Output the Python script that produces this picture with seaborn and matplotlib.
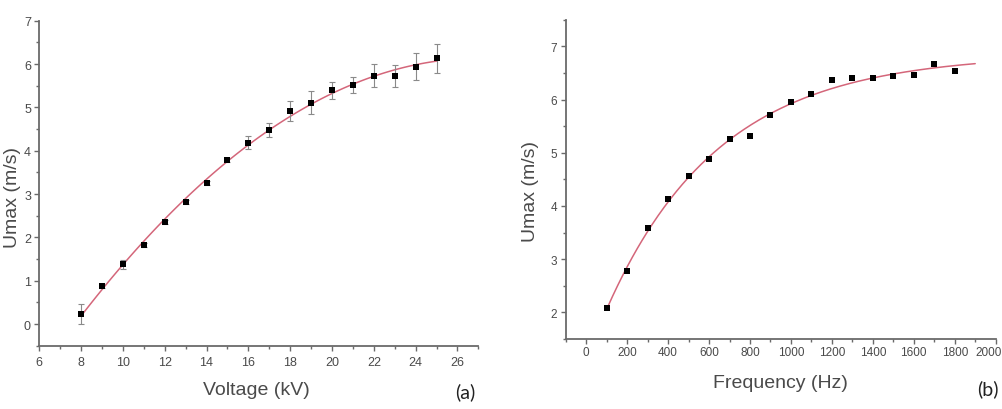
import numpy as np
import pandas as pd
import matplotlib
matplotlib.use("Agg")
import matplotlib.pyplot as plt
import matplotlib.transforms as mtrans
from matplotlib.ticker import MultipleLocator
import seaborn as sns

# ---- data ----
voltage_kv = [8, 9, 10, 11, 12, 13, 14, 15, 16, 17, 18, 19, 20, 21, 22, 23, 24, 25]
umax_volt = [0.23, 0.87, 1.38, 1.83, 2.35, 2.82, 3.25, 3.79, 4.18, 4.48, 4.92,
             5.11, 5.39, 5.52, 5.73, 5.72, 5.94, 6.13]
err_volt = [0.23, 0.05, 0.10, 0.05, 0.05, 0.05, 0.05, 0.05, 0.15, 0.17, 0.23,
            0.27, 0.19, 0.18, 0.26, 0.25, 0.31, 0.33]

freq_hz = [100, 200, 300, 400, 500, 600, 700, 800, 900, 1000, 1100, 1200,
           1300, 1400, 1500, 1600, 1700, 1800]
umax_freq = [2.08, 2.78, 3.58, 4.13, 4.56, 4.88, 5.26, 5.32, 5.70, 5.96, 6.10,
             6.37, 6.40, 6.41, 6.45, 6.47, 6.67, 6.53]

volt_xticks = [6, 8, 10, 12, 14, 16, 18, 20, 22, 24, 26]
volt_yticks = [0, 1, 2, 3, 4, 5, 6, 7]
freq_xticks = [0, 200, 400, 600, 800, 1000, 1200, 1400, 1600, 1800, 2000]
freq_yticks = [2, 3, 4, 5, 6, 7]

df_v = pd.DataFrame({"Voltage": voltage_kv, "Umax": umax_volt, "err": err_volt})
df_f = pd.DataFrame({"Frequency": freq_hz, "Umax": umax_freq})

# ---- style ----
sns.set_theme(style="ticks")
plt.rcParams["font.family"] = ["Liberation Sans", "DejaVu Sans"]

TXT = "#4a4a4a"
AX = "#6a6a6a"
FIT = "#d4667a"

fig = plt.figure(figsize=(10.02, 4.10), dpi=100)
ax1 = fig.add_axes([0.0392, 0.1544, 0.4382, 0.7927])
ax2 = fig.add_axes([0.5646, 0.1707, 0.4291, 0.7788])


def style_axes(ax, fs):
    for s in ["top", "right"]:
        ax.spines[s].set_visible(False)
    for s in ["left", "bottom"]:
        ax.spines[s].set_color(AX)
        ax.spines[s].set_linewidth(1.3)
    ax.tick_params(which="major", direction="out", length=3.5, width=1.0,
                   color=AX, labelcolor=TXT, labelsize=fs, pad=2.5)
    ax.tick_params(which="minor", direction="out", length=2.0, width=1.0,
                   color=AX)


# ---- panel (a) ----
sns.regplot(data=df_v, x="Voltage", y="Umax", order=2, ci=None, scatter=False,
            truncate=True, ax=ax1, line_kws=dict(color=FIT, lw=1.1))
ax1.errorbar(df_v["Voltage"], df_v["Umax"], yerr=df_v["err"], fmt="none",
             ecolor="#8a8a8a", elinewidth=0.8, capsize=2.5, capthick=0.8, zorder=3)
sns.scatterplot(data=df_v, x="Voltage", y="Umax", marker="s", s=24,
                color="black", edgecolor="black", linewidth=0, ax=ax1, zorder=4)
ax1.set_xlim(6, 27)
ax1.set_ylim(-0.5, 7)
ax1.set_xticks(volt_xticks)
ax1.set_yticks(volt_yticks)
ax1.xaxis.set_minor_locator(MultipleLocator(1))
ax1.yaxis.set_minor_locator(MultipleLocator(0.5))
style_axes(ax1, 9)
ax1.tick_params(axis="x", which="major", pad=4)
ax1.set_xlabel("Voltage (kV)", fontsize=14, color=TXT)
ax1.set_ylabel("Umax (m/s)", fontsize=14, color=TXT)
ax1.yaxis.set_label_coords(-0.041, 0.46)
ax1.xaxis.set_label_coords(0.495, -0.108)

# ---- panel (b): exponential saturation fit ----
xf = np.asarray(freq_hz, float)
yf = np.asarray(umax_freq, float)
best = None
for tau in np.linspace(100, 2000, 1901):
    M = np.column_stack([np.ones_like(xf), np.exp(-xf / tau)])
    coef, *_ = np.linalg.lstsq(M, yf, rcond=None)
    r = np.sum((M @ coef - yf) ** 2)
    if best is None or r < best[0]:
        best = (r, tau, coef)
_, tau, coef = best
xs = np.linspace(105, 1900, 300)
df_fit = pd.DataFrame({"Frequency": xs,
                       "Umax": coef[0] + coef[1] * np.exp(-xs / tau)})

sns.lineplot(data=df_fit, x="Frequency", y="Umax", color=FIT, lw=1.1, ax=ax2)
sns.scatterplot(data=df_f, x="Frequency", y="Umax", marker="s", s=24,
                color="black", edgecolor="black", linewidth=0, ax=ax2, zorder=4)
ax2.set_xlim(-100, 2000)
ax2.set_ylim(1.5, 7.5)
ax2.set_xticks(freq_xticks)
ax2.set_yticks(freq_yticks)
ax2.xaxis.set_minor_locator(MultipleLocator(100))
ax2.yaxis.set_minor_locator(MultipleLocator(0.5))
style_axes(ax2, 8.5)
ax2.tick_params(axis="x", which="major", pad=1.5)
# nudge the last tick label a little left so it stays inside the picture
last = ax2.get_xticklabels()[-1]
last.set_transform(last.get_transform() +
                   mtrans.ScaledTranslation(-7 / 100, 0, fig.dpi_scale_trans))
ax2.set_xlabel("Frequency (Hz)", fontsize=14, color=TXT)
ax2.set_ylabel("Umax (m/s)", fontsize=14, color=TXT)
ax2.yaxis.set_label_coords(-0.062, 0.464)
ax2.xaxis.set_label_coords(0.5, -0.11)

# panel labels
fig.text(0.464, 0.043, "(a)", fontsize=14, color="#222222",
         family=["Lato", "DejaVu Sans"], ha="center", va="center")
fig.text(0.997, 0.05, "(b)", fontsize=14, color="#222222",
         family=["Lato", "DejaVu Sans"], ha="right", va="center")

fig.savefig("out.png", dpi=100)
